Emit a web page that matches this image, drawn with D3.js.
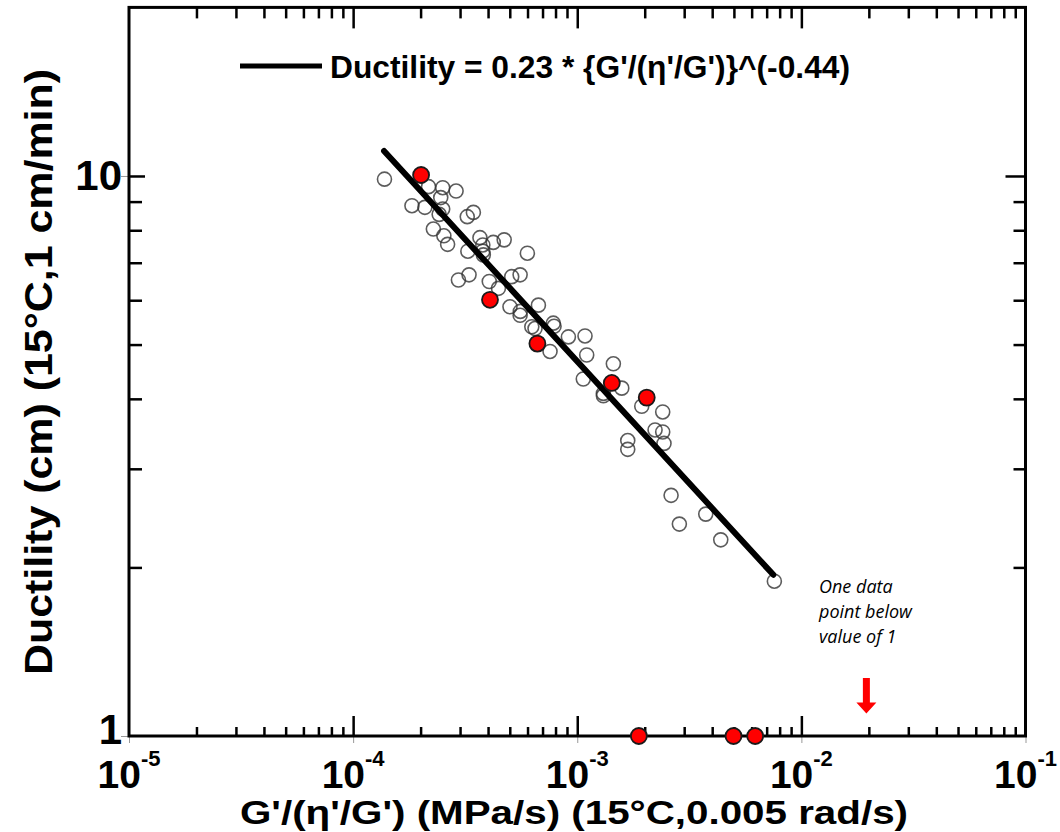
<!DOCTYPE html>
<html>
<head>
<meta charset="utf-8">
<script src="https://cdn.jsdelivr.net/npm/d3@7"></script>
<style>
  html, body { margin: 0; padding: 0; background: #ffffff; }
  svg { display: block; }
</style>
</head>
<body>
<svg id="chart" width="1060" height="832"></svg>
<script>
// ---------------- data ----------------
const hollowX = [1.38e-4, 2.17e-4, 2.51e-4, 2.88e-4, 2.46e-4, 1.83e-4, 2.09e-4, 2.51e-4, 2.42e-4, 3.23e-4,
                 3.44e-4, 2.28e-4, 2.54e-4, 2.64e-4, 3.25e-4, 3.68e-4, 3.79e-4, 4.22e-4, 4.72e-4, 3.79e-4,
                 3.81e-4, 5.99e-4, 2.95e-4, 3.29e-4, 4.05e-4, 4.45e-4, 5.10e-4, 5.56e-4, 5.01e-4, 5.57e-4,
                 6.71e-4, 5.56e-4, 6.27e-4, 6.48e-4, 7.82e-4, 7.88e-4, 9.13e-4, 1.083e-3, 7.56e-4, 1.102e-3,
                 1.064e-3, 1.449e-3, 1.58e-3, 1.308e-3, 1.308e-3, 1.94e-3, 2.406e-3, 2.224e-3, 2.406e-3, 2.438e-3,
                 1.68e-3, 1.68e-3, 2.622e-3, 3.744e-3, 2.855e-3, 4.368e-3, 7.576e-3];
const hollowY = [9.87, 9.57, 9.53, 9.40, 9.15, 8.85, 8.79, 8.73, 8.54, 8.46,
                 8.61, 8.04, 7.82, 7.55, 7.34, 7.76, 7.53, 7.61, 7.69, 7.34,
                 7.23, 7.28, 6.52, 6.66, 6.48, 6.30, 6.61, 6.66, 5.84, 5.73,
                 5.88, 5.64, 5.38, 5.34, 5.46, 5.39, 5.16, 5.18, 4.86, 4.79,
                 4.34, 4.62, 4.18, 4.09, 4.05, 3.88, 3.79, 3.52, 3.49, 3.33,
                 3.37, 3.25, 2.69, 2.49, 2.39, 2.24, 1.89];

const redX = [2.01e-4, 4.08e-4, 6.64e-4, 1.426e-3, 2.042e-3, 1.883e-3, 4.98e-3, 6.22e-3];
const redY = [10.04, 6.01, 5.02, 4.27, 4.02, 1, 1, 1];

// fitted line end points: Ductility = 0.23 * {G'/(eta'/G')}^(-0.44)
const fitX = [1.374e-4, 7.5e-3];
const fitY = [11.08, 1.94];

const xMajorTicks = [1e-5, 1e-4, 1e-3, 1e-2, 1e-1];
const xTickExponents = ["-5", "-4", "-3", "-2", "-1"];
const yMajorTicks = [1, 10];
const yTickLabels = ["1", "10"];

const legendLabel = "Ductility = 0.23 * {G'/(\u03B7'/G')}^(-0.44)";
const xAxisTitle = "G'/(\u03B7'/G') (MPa/s) (15\u00B0C,0.005 rad/s)";
const yAxisTitle = "Ductility (cm) (15\u00B0C,1 cm/min)";
const noteLines = ["One data", "point below", "value of 1"];
const arrowAtX = 1.95e-2;

// ---------------- layout ----------------
const L = 129, R = 1025.5, T = 7.4, B = 736;
const svg = d3.select("#chart");
const x = d3.scaleLog().domain([1e-5, 1e-1]).range([L, R]);
const y = d3.scaleLog().domain([1, 20]).range([B, T]);
const boldFont = "'Liberation Sans', Arial, sans-serif";

// minor ticks
const xMinor = [];
for (let e = -5; e < -1; e++) for (let m = 2; m <= 9; m++) xMinor.push(m * Math.pow(10, e));
const yMinor = [];
for (let m = 2; m <= 9; m++) yMinor.push(m);

function styleAxis(g, color, width) {
  g.select(".domain").remove();
  g.selectAll(".tick line").attr("stroke", color).attr("stroke-width", width);
  g.selectAll(".tick text").remove();
}

// outward grey stubs at major ticks
svg.append("g").attr("transform", `translate(0,${B})`)
  .call(d3.axisBottom(x).tickValues(xMajorTicks).tickSize(7).tickFormat(""))
  .call(g => styleAxis(g, "#999", 1));
svg.append("g").attr("transform", `translate(${L},0)`)
  .call(d3.axisLeft(y).tickValues(yMajorTicks).tickSize(8).tickFormat(""))
  .call(g => styleAxis(g, "#999", 1));

// bottom axis inward ticks
svg.append("g").attr("transform", `translate(0,${B})`)
  .call(d3.axisBottom(x).tickValues(xMinor).tickSize(-9).tickFormat(""))
  .call(g => styleAxis(g, "#000", 2.5));
svg.append("g").attr("transform", `translate(0,${B})`)
  .call(d3.axisBottom(x).tickValues(xMajorTicks.slice(1, -1)).tickSize(-20).tickFormat(""))
  .call(g => styleAxis(g, "#000", 2.5));
// top axis inward ticks
svg.append("g").attr("transform", `translate(0,${T})`)
  .call(d3.axisTop(x).tickValues(xMinor).tickSize(-11).tickFormat(""))
  .call(g => styleAxis(g, "#000", 2.5));
svg.append("g").attr("transform", `translate(0,${T})`)
  .call(d3.axisTop(x).tickValues(xMajorTicks.slice(1, -1)).tickSize(-21).tickFormat(""))
  .call(g => styleAxis(g, "#000", 2.5));
// left axis inward ticks
svg.append("g").attr("transform", `translate(${L},0)`)
  .call(d3.axisLeft(y).tickValues(yMinor).tickSize(-13).tickFormat(""))
  .call(g => styleAxis(g, "#000", 2.5));
svg.append("g").attr("transform", `translate(${L},0)`)
  .call(d3.axisLeft(y).tickValues([10]).tickSize(-16).tickFormat(""))
  .call(g => styleAxis(g, "#000", 2.5));
// right axis inward ticks
svg.append("g").attr("transform", `translate(${R},0)`)
  .call(d3.axisRight(y).tickValues(yMinor).tickSize(-12).tickFormat(""))
  .call(g => styleAxis(g, "#000", 2.5));
svg.append("g").attr("transform", `translate(${R},0)`)
  .call(d3.axisRight(y).tickValues([10]).tickSize(-20).tickFormat(""))
  .call(g => styleAxis(g, "#000", 2.5));

// frame
svg.append("rect")
  .attr("x", L).attr("y", T).attr("width", R - L).attr("height", B - T)
  .attr("fill", "none").attr("stroke", "#000").attr("stroke-width", 3);

// x tick labels (10^n)
const xLab = svg.append("g").attr("font-family", boldFont).attr("font-weight", "bold").attr("fill", "#000");
xMajorTicks.forEach((v, i) => {
  const t = xLab.append("text").attr("x", x(v)).attr("y", 788).attr("text-anchor", "middle");
  t.append("tspan").attr("font-size", 39).text("10");
  t.append("tspan").attr("font-size", 22).attr("dy", -22).text(xTickExponents[i]);
});

// y tick labels
const yLab = svg.append("g").attr("font-family", boldFont).attr("font-weight", "bold").attr("fill", "#000");
yMajorTicks.forEach((v, i) => {
  yLab.append("text")
    .attr("x", 122).attr("y", y(v) + 14 - (v === 1 ? 6 : 0))
    .attr("text-anchor", "end").attr("font-size", 42)
    .text(yTickLabels[i]);
});

// axis titles
svg.append("text")
  .attr("x", 574).attr("y", 824).attr("text-anchor", "middle")
  .attr("font-family", boldFont).attr("font-weight", "bold").attr("font-size", 33)
  .attr("textLength", 668).attr("lengthAdjust", "spacingAndGlyphs")
  .text(xAxisTitle);
svg.append("text")
  .attr("transform", `translate(52,${372}) rotate(-90)`).attr("text-anchor", "middle")
  .attr("font-family", boldFont).attr("font-weight", "bold").attr("font-size", 38)
  .attr("textLength", 606).attr("lengthAdjust", "spacingAndGlyphs")
  .text(yAxisTitle);

// hollow points
const hollow = hollowX.map((v, i) => ({ x: v, y: hollowY[i] }));
svg.append("g").selectAll("circle").data(hollow).join("circle")
  .attr("cx", d => x(d.x)).attr("cy", d => y(d.y)).attr("r", 7)
  .attr("fill", "none").attr("stroke", "#333").attr("stroke-opacity", 0.8).attr("stroke-width", 1.6);

// fitted line
const fit = fitX.map((v, i) => ({ x: v, y: fitY[i] }));
svg.append("path")
  .datum(fit)
  .attr("d", d3.line().x(d => x(d.x)).y(d => y(d.y)))
  .attr("fill", "none").attr("stroke", "#000").attr("stroke-width", 6).attr("stroke-linecap", "round");

// red points
const red = redX.map((v, i) => ({ x: v, y: redY[i] }));
svg.append("g").selectAll("circle").data(red).join("circle")
  .attr("cx", d => x(d.x)).attr("cy", d => y(d.y)).attr("r", 8)
  .attr("fill", "#ff0000").attr("stroke", "#1a1a1a").attr("stroke-width", 1.8);

// legend
svg.append("line").attr("x1", 240).attr("x2", 322).attr("y1", 66).attr("y2", 66)
  .attr("stroke", "#000").attr("stroke-width", 5);
svg.append("text")
  .attr("x", 330).attr("y", 78)
  .attr("font-family", "'Liberation Sans Narrow', 'Arial Narrow', 'Liberation Sans', Arial, sans-serif")
  .attr("font-weight", "bold").attr("font-size", 32)
  .attr("textLength", 520).attr("lengthAdjust", "spacingAndGlyphs")
  .text(legendLabel);

// annotation
const note = svg.append("text").attr("font-family", "'Open Sans', Lato, sans-serif")
  .attr("font-style", "italic").attr("font-size", 18).attr("fill", "#000");
noteLines.forEach((s, i) => note.append("tspan").attr("x", 819).attr("y", 593 + i * 25).text(s));

// arrow
const ax = x(arrowAtX);
const aTop = 678, aTip = 713.5;
svg.append("path")
  .attr("d", `M${ax - 3.5},${aTop} L${ax + 3.5},${aTop} L${ax + 3.5},${aTip - 11} L${ax + 10},${aTip - 11} L${ax},${aTip} L${ax - 10},${aTip - 11} L${ax - 3.5},${aTip - 11} Z`)
  .attr("fill", "#ff0000");
</script>
</body>
</html>
